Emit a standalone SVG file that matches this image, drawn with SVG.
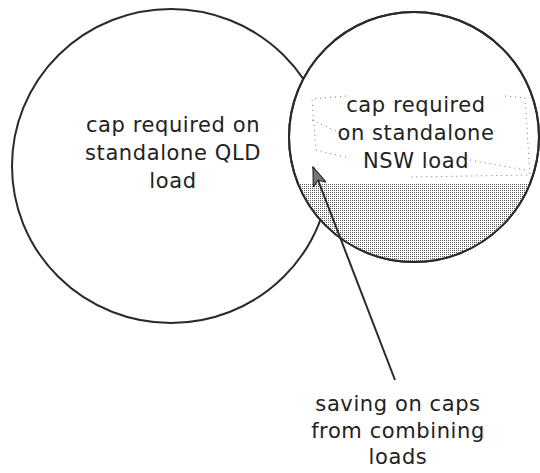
<svg xmlns="http://www.w3.org/2000/svg" width="540" height="473" viewBox="0 0 540 473">
<defs>
<pattern id="dots" width="2" height="2" patternUnits="userSpaceOnUse">
<rect width="2" height="2" fill="#ffffff"/>
<rect width="1" height="1" fill="#555555"/>
</pattern>
<clipPath id="rc"><circle cx="414" cy="137" r="125"/></clipPath>
<marker id="ah" markerWidth="20" markerHeight="14" refX="19" refY="7" orient="auto" markerUnits="userSpaceOnUse">
<path d="M0,0 L19,7 L0,14 L5,7 Z" fill="#777" stroke="#2a2a2a" stroke-width="1.2"/>
</marker>
<style>
.ring{fill:#fff;stroke:#2a2a2a;stroke-width:2}
.lbl{font-family:"DejaVu Sans","Open Sans",sans-serif;font-size:21px;letter-spacing:0.6px;fill:#222;text-anchor:middle}
.dot{fill:none;stroke:#777;stroke-width:1;stroke-dasharray:1 4}
</style>
</defs>
<g id="qld">
<ellipse class="ring" cx="171" cy="166" rx="159" ry="157"/>
<text class="lbl" x="173" y="132">cap required on</text>
<text class="lbl" x="173" y="160">standalone QLD</text>
<text class="lbl" x="173" y="188">load</text>
</g>
<g id="nsw">
<circle class="ring" cx="414" cy="137" r="125"/>
<rect x="280" y="184" width="270" height="100" fill="url(#dots)" clip-path="url(#rc)"/>
<circle cx="414" cy="137" r="125" fill="none" stroke="#2a2a2a" stroke-width="2"/>
<path class="dot" d="M346,96 L312,99 L316,150 L350,158 M312,120 L345,135 M505,96 L525,98 L530,175 L410,177 M470,160 L525,170"/>
<text class="lbl" x="416" y="112">cap required</text>
<text class="lbl" x="416" y="140">on standalone</text>
<text class="lbl" x="416" y="168">NSW load</text>
</g>
<g id="saving">
<text class="lbl" x="398" y="411">saving on caps</text>
<text class="lbl" x="398" y="438">from combining</text>
<text class="lbl" x="398" y="464">loads</text>
</g>
<g id="connectors">
<line x1="395" y1="380" x2="313" y2="167" stroke="#2a2a2a" stroke-width="2" marker-end="url(#ah)"/>
</g>
</svg>
